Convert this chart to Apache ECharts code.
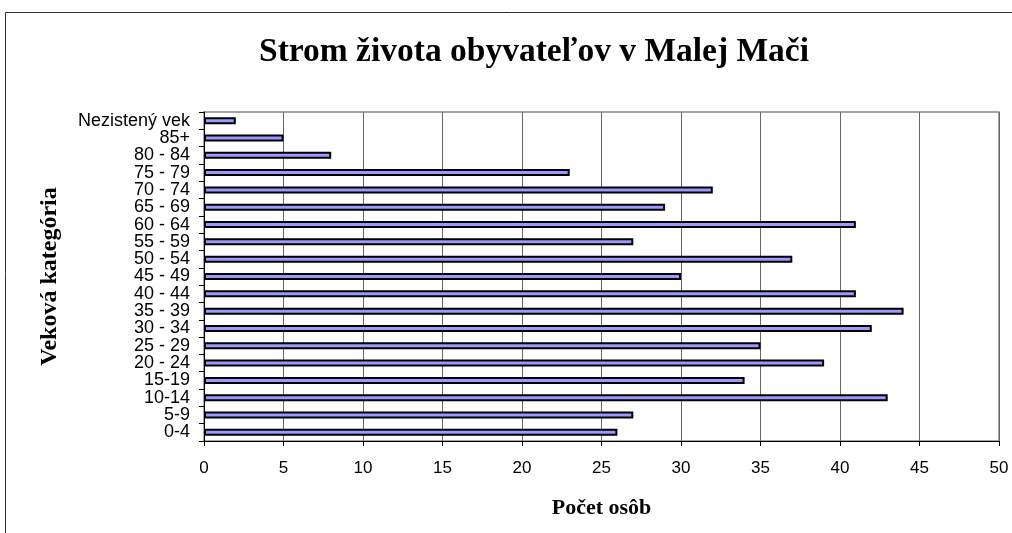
<!DOCTYPE html>
<html>
<head>
<meta charset="utf-8">
<script src="https://cdn.jsdelivr.net/npm/echarts@6/dist/echarts.min.js"></script>
<style>
html,body{margin:0;padding:0;background:#fff;}
#c{width:1012px;height:533px;}
</style>
</head>
<body>
<div id="c"></div>
<script>
const categories = ['0-4','5-9','10-14','15-19','20 - 24','25 - 29','30 - 34','35 - 39','40 - 44','45 - 49','50 - 54','55 - 59','60 - 64','65 - 69','70 - 74','75 - 79','80 - 84','85+','Nezistený vek'];
const values = [26,27,43,34,39,35,42,44,41,30,37,27,41,29,32,23,8,5,2];
const titleText = 'Strom života obyvateľov v Malej Mači';
const xName = 'Počet osôb';
const yName = 'Veková kategória';

const chart = echarts.init(document.getElementById('c'), null, {renderer:'canvas'});
chart.setOption({
  backgroundColor:'#fff',
  animation:false,
  title:{
    text:titleText, left:254, top:30,
    textStyle:{fontFamily:'Liberation Serif', fontWeight:'bold', fontSize:33.5, color:'#000'}
  },
  graphic:[{
    type:'rect', shape:{x:5.5,y:12.5,width:1010,height:530},
    style:{fill:'none', stroke:'#333', lineWidth:1}, silent:true
  }],
  grid:{left:204, right:13, top:112, bottom:92, containLabel:false,
        show:true, borderColor:'#888', borderWidth:1.5, backgroundColor:'transparent'},
  xAxis:{
    type:'value', min:0, max:50, interval:5,
    name:xName, nameLocation:'middle', nameGap:56,
    nameTextStyle:{fontFamily:'Liberation Serif', fontWeight:'bold', fontSize:22, color:'#000'},
    axisLine:{show:true, lineStyle:{color:'#000', width:1}},
    axisTick:{show:true, length:5, lineStyle:{color:'#000'}},
    axisLabel:{fontFamily:'Liberation Sans', fontSize:17, color:'#000', margin:19},
    splitLine:{show:true, lineStyle:{color:'#666', width:1}}
  },
  yAxis:{
    type:'category', data:categories,
    name:yName, nameLocation:'middle', nameGap:142, nameRotate:90,
    nameTextStyle:{fontFamily:'Liberation Serif', fontWeight:'bold', fontSize:24, color:'#000'},
    axisLine:{show:true, lineStyle:{color:'#000', width:1}},
    axisTick:{show:true, length:5, lineStyle:{color:'#000'}},
    axisLabel:{fontFamily:'Liberation Sans', fontSize:18, color:'#000', margin:14, interval:0, lineHeight:17},
    splitLine:{show:false}
  },
  series:[{
    type:'bar', data:values, barWidth:7,
    itemStyle:{color:'#9999FF', borderColor:'#000', borderWidth:2}
  }]
});
</script>
</body>
</html>
